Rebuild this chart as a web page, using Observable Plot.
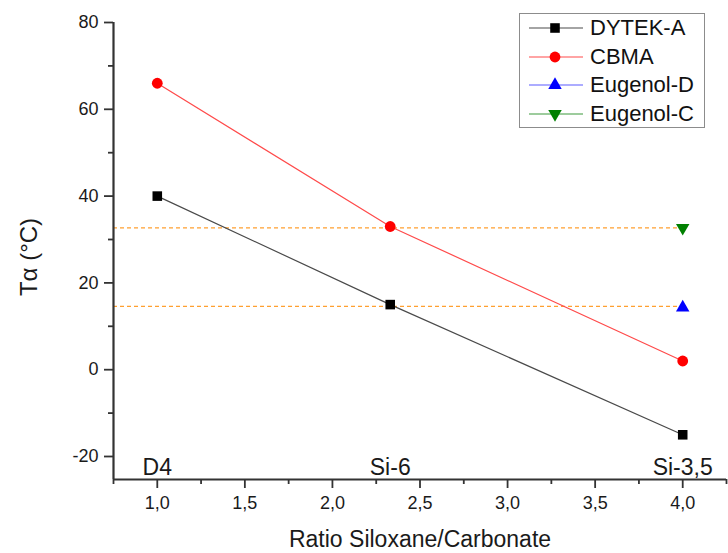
<!DOCTYPE html>
<html>
<head>
<meta charset="utf-8">
<script src="https://cdn.jsdelivr.net/npm/d3@7"></script>
<script src="https://cdn.jsdelivr.net/npm/@observablehq/plot@0.6"></script>
<style>
  html, body { margin: 0; padding: 0; background: #fff; }
  #wrap { position: relative; width: 728px; height: 553px; font-family: "Liberation Sans", Arial, sans-serif; }
  #legend { position: absolute; left: 519px; top: 13px; width: 184px; height: 113px; border: 1.5px solid #8c8c8c; background: #fff; }
  .row { display: flex; align-items: center; height: 28.5px; margin-left: 8px; }
  .row span { font-size: 22px; color: #111; margin-left: 6px; line-height: 1; }
</style>
</head>
<body>
<div id="wrap"><div id="legend"></div></div>
<script>
// ---- data ----
const seriesNames = ["DYTEK-A", "CBMA", "Eugenol-D", "Eugenol-C"];
const markerColors = ["#000000", "#ff0000", "#0000ff", "#008000"];
const lineColors = ["#4a4a4a", "#ff4a4a", "#5a5aff", "#3c9a3c"];
const ratio = [1.0, 2.33, 4.0];
const dytekA = [40, 15, -15];
const cbma = [66, 33, 2];
const eugenolDx = [4.0];
const eugenolD = [14.3];
const eugenolCx = [4.0];
const eugenolC = [32.7];
const refLevels = [32.7, 14.6];
const refStart = 0.75;
const refEnd = 4.0;
const sampleLabels = ["D4", "Si-6", "Si-3,5"];
const sampleX = [1.0, 2.33, 4.0];
const xMajor = [1.0, 1.5, 2.0, 2.5, 3.0, 3.5, 4.0];
const xMinor = [0.75, 1.25, 1.75, 2.25, 2.75, 3.25, 3.75, 4.25];
const yMajor = [-20, 0, 20, 40, 60, 80];
const yMinor = [-10, 10, 30, 50, 70];
const xDomain = [0.75, 4.25];
const yDomain = [-25.3, 80];

// ---- build table ----
const pts = [];
ratio.forEach((x, i) => pts.push({series: "DYTEK-A", x, y: dytekA[i]}));
ratio.forEach((x, i) => pts.push({series: "CBMA", x, y: cbma[i]}));
eugenolDx.forEach((x, i) => pts.push({series: "Eugenol-D", x, y: eugenolD[i]}));
eugenolCx.forEach((x, i) => pts.push({series: "Eugenol-C", x, y: eugenolC[i]}));
const refs = refLevels.map(y => ({y, x1: refStart, x2: refEnd}));
const labels = sampleLabels.map((t, i) => ({t, x: sampleX[i]}));

const triangleDown = {
  draw(context, size) {
    const sqrt3 = Math.sqrt(3);
    const y = -Math.sqrt(size / (sqrt3 * 3));
    context.moveTo(0, -y * 2);
    context.lineTo(-sqrt3 * y, y);
    context.lineTo(sqrt3 * y, y);
    context.closePath();
  }
};
const symbolFor = {"DYTEK-A": "square", "CBMA": "circle", "Eugenol-D": "triangle", "Eugenol-C": triangleDown};
const radiusFor = {"DYTEK-A": 5.4, "CBMA": 5.4, "Eugenol-D": 5, "Eugenol-C": 5};

const fmtX = d => d.toFixed(1).replace(".", ",");
const fmtY = d => String(d);
const axisColor = "#333";
const textColor = "#1a1a1a";

const dotMarks = seriesNames.map((s, i) =>
  Plot.dot(pts.filter(d => d.series === s), {
    x: "x", y: "y", symbol: () => symbolFor[s], r: radiusFor[s],
    fill: markerColors[i], stroke: "none"
  })
);

const chart = Plot.plot({
  width: 728,
  height: 553,
  marginLeft: 113,
  marginTop: 22,
  marginBottom: 74,
  marginRight: 2,
  style: {fontFamily: "Liberation Sans, Arial, sans-serif", color: textColor, background: "#fff"},
  x: {domain: xDomain},
  y: {domain: yDomain},
  symbol: {type: "identity"},
  marks: [
    Plot.ruleY(refs, {y: "y", x1: "x1", x2: "x2", stroke: "#ffa030", strokeWidth: 1.2, strokeDasharray: "4,3"}),
    Plot.line(pts.filter(d => d.series === "DYTEK-A"), {x: "x", y: "y", stroke: lineColors[0], strokeWidth: 1.2}),
    Plot.line(pts.filter(d => d.series === "CBMA"), {x: "x", y: "y", stroke: lineColors[1], strokeWidth: 1.2}),
    ...dotMarks,
    Plot.text(labels, {x: "x", text: "t", frameAnchor: "bottom", lineAnchor: "bottom", dy: -5, fontSize: 23, fill: textColor}),
    Plot.axisX(xMajor, {tickFormat: fmtX, tickSize: 9, tickPadding: 8, fontSize: 18, label: null, stroke: axisColor, strokeWidth: 1.8, fill: textColor}),
    Plot.axisX(xMinor, {text: null, tickSize: 5, label: null, stroke: axisColor, strokeWidth: 1.8}),
    Plot.axisY(yMajor, {tickFormat: fmtY, tickSize: 9, tickPadding: 6, fontSize: 18, label: null, stroke: axisColor, strokeWidth: 1.8, fill: textColor}),
    Plot.axisY(yMinor, {text: null, tickSize: 5, label: null, stroke: axisColor, strokeWidth: 1.8}),
    Plot.ruleX([xDomain[0]], {stroke: axisColor, strokeWidth: 2.2}),
    Plot.ruleY([yDomain[0]], {stroke: axisColor, strokeWidth: 2.2}),
    Plot.text(["Ratio Siloxane/Carbonate"], {frameAnchor: "bottom", textAnchor: "middle", lineAnchor: "bottom", dy: 67, fontSize: 23, fill: textColor}),
    Plot.text(["Tα (°C)"], {frameAnchor: "left", textAnchor: "middle", dx: -84, dy: 6, rotate: -90, fontSize: 24, fill: textColor})
  ]
});
document.getElementById("wrap").prepend(chart);

// ---- legend ----
const legend = d3.select("#legend");
seriesNames.forEach((s, i) => {
  const row = legend.append("div").attr("class", "row");
  const svg = row.append("svg").attr("width", 56).attr("height", 20);
  svg.append("line").attr("x1", 1).attr("x2", 55).attr("y1", 10).attr("y2", 10)
    .attr("stroke", lineColors[i]).attr("stroke-width", 1.2);
  const sym = symbolFor[s] === "square" ? d3.symbolSquare : symbolFor[s] === "circle" ? d3.symbolCircle
    : symbolFor[s] === "triangle" ? d3.symbolTriangle : triangleDown;
  svg.append("path").attr("transform", "translate(27,10)")
    .attr("d", d3.symbol(sym, Math.PI * radiusFor[s] * radiusFor[s])())
    .attr("fill", markerColors[i]);
  row.append("span").text(s);
});
</script>
</body>
</html>
